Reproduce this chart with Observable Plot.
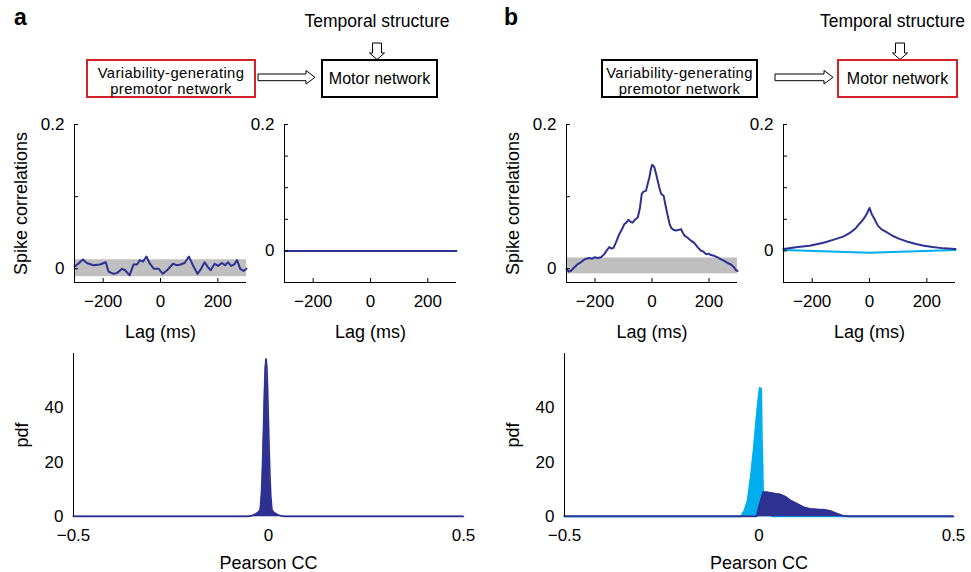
<!DOCTYPE html>
<html><head><meta charset="utf-8">
<script src="https://cdn.jsdelivr.net/npm/d3@7"></script>
<script src="https://cdn.jsdelivr.net/npm/@observablehq/plot@0.6"></script>
<style>
body{margin:0;background:#fff;}
#fig{position:relative;width:971px;height:572px;overflow:hidden;background:#fff;}
</style></head><body><div id="fig"></div>
<script>
// ---------- data ----------
const DARK = "#2e3192", LIGHT = "#00aeef", GRAY = "#bfbfbf", RED = "#d2232a";

// panel a, spike correlations (variability-generating network)
const lagA1 = [-300,-287,-271,-257,-234,-211,-191,-181,-164,-152,-134,-123,-108,-94,-82,-72,-61,-49,-37,-23,-6,8,23,44,56,70,84,99,113,129,140,154,166,175,189,201,214,225,236,246,257,267,278,290,300];
const corrA1 = [0.003,0.007,0.013,0.008,0.005,0.006,0.009,-0.004,-0.007,-0.006,0.000,-0.002,-0.009,0.006,0.006,0.012,0.010,0.017,0.007,0.000,0.000,-0.007,-0.002,0.007,0.005,0.006,0.008,0.017,0.005,-0.007,-0.001,0.009,0.002,-0.002,0.007,0.004,0.008,0.005,0.009,0.004,0.006,0.012,0.000,-0.003,0.000];
const bandLagA = [-300, 300];
const bandCorrA = [-0.011, 0.0125];

// panel a, motor network
const lagA2 = [-300,-150,0,150,300];
const corrA2 = [0,0,0,0,0];

// panel b, spike correlations (variability-generating network)
const lagB1 = [-300,-292,-285,-275,-262,-250,-240,-231,-220,-210,-202,-190,-179,-168,-158,-150,-142,-135,-125,-115,-105,-97,-90,-83,-75,-68,-60,-50,-42,-36,-30,-21,-15,-9,-4,0,4,8,14,20,26,32,41,49,56,62,67,75,84,95,102,108,114,125,137,148,160,172,180,190,198,207,218,230,242,254,265,277,288,295,300];
const corrB1 = [0.000,-0.004,-0.003,0.001,0.006,0.009,0.012,0.014,0.015,0.014,0.016,0.015,0.016,0.020,0.026,0.030,0.028,0.029,0.038,0.048,0.055,0.062,0.064,0.068,0.065,0.064,0.068,0.071,0.085,0.104,0.107,0.108,0.118,0.127,0.138,0.144,0.143,0.141,0.132,0.122,0.112,0.104,0.101,0.085,0.072,0.062,0.057,0.054,0.053,0.054,0.055,0.050,0.046,0.043,0.039,0.036,0.030,0.025,0.024,0.020,0.021,0.019,0.018,0.016,0.013,0.011,0.008,0.006,0.002,-0.002,-0.003];
const bandLagB = [-300, 300];
const bandCorrB = [-0.007, 0.015];

// panel b, motor network (dark: spike correlations, light: shuffled)
const lagB2 = [-300,-250,-209,-160,-116,-90,-70,-50,-35,-25,-17,-8,0,8,18,29,42,58,80,104,130,162,190,220,260,300];
const corrB2 = [0.003,0.006,0.008,0.013,0.019,0.023,0.028,0.035,0.043,0.048,0.053,0.060,0.068,0.058,0.050,0.040,0.034,0.030,0.024,0.019,0.015,0.011,0.008,0.006,0.004,0.003];
const lagB2s = [-300,0,300];
const corrB2s = [0.0015,-0.003,0.0015];

// pdf of Pearson CC
const ccA = [-0.5,-0.2,-0.052,-0.042,-0.034,-0.026,-0.021,-0.018,-0.016,-0.014,-0.012,-0.010,-0.008,-0.006,-0.004,-0.002,0.000,0.002,0.004,0.006,0.009,0.014,0.022,0.030,0.040,0.2,0.5];
const pdfA = [0,0,0,0.3,0.8,1.5,2.5,7.8,14.5,23.8,35.2,46.5,54.9,58,54.9,46.5,35.2,23.8,14.5,7.8,2.5,1.5,0.8,0.3,0,0,0];
const ccBlight = [-0.5,-0.2,-0.046,-0.037,-0.029,-0.020,-0.013,-0.007,-0.002,0.002,0.006,0.008,0.011,0.016,0.024,0.035,0.2,0.5];
const pdfBlight = [0,0,0,2.2,5.9,15.7,25.4,35.2,42.6,47.4,47,27.9,9.5,4,1,0,0,0];
const ccBdark = [-0.5,-0.2,-0.006,0.002,0.011,0.021,0.038,0.055,0.068,0.081,0.098,0.115,0.132,0.150,0.167,0.184,0.201,0.218,0.232,0.3,0.5];
const pdfBdark = [0,0,0,4.5,8.9,8.9,8.5,8.1,7.3,5.9,4.7,3.4,2.8,2.6,2.5,2.0,1.0,0.2,0,0,0];

// ticks
const lagTicks = [-200, 0, 200];
const corrTicksA = [0, 0.1, 0.2];
const corrTicksB = [0, 0.05, 0.1, 0.15, 0.2];
const corrLabels = [0, 0.2];
const ccTicks = [-0.5, 0, 0.5];
const pdfTicks = [0, 20, 40];

// ---------- drawing ----------
const FONT = '"Liberation Sans", Arial, Helvetica, sans-serif';
const fig = document.getElementById("fig");
const fmt = d => String(d).replace("-", "\u2212");
const zip = (xs, ys) => xs.map((x, i) => ({x, y: ys[i]}));

function panel(o) {
  const ml = 75, mr = 20, mt = 15, mb = o.mb;
  const w = o.x1 - o.x0, h = o.y1 - o.y0;
  const svg = Plot.plot({
    width: w + ml + mr, height: h + mt + mb,
    marginLeft: ml, marginRight: mr, marginTop: mt, marginBottom: mb,
    style: {fontFamily: FONT, fontSize: "17px", background: "transparent", color: "#000", overflow: "visible"},
    x: {domain: o.xDomain},
    y: {domain: o.yDomain},
    marks: o.marks(w, h)
  });
  svg.style.position = "absolute";
  svg.style.left = (o.x0 - ml) + "px";
  svg.style.top = (o.y0 - mt) + "px";
  fig.appendChild(svg);
}

function corrPanel(o) {
  panel({
    x0: o.x0, x1: o.x1, y0: 124, y1: 282, mb: 62,
    xDomain: [-300, 300], yDomain: o.yDomain,
    marks: (w, h) => [
      o.band ? Plot.rect([0], {x1: () => o.band[0][0], x2: () => o.band[0][1], y1: () => o.band[1][0], y2: () => o.band[1][1], fill: GRAY}) : null,
      ...o.lines.map(l => Plot.line(zip(l[0], l[1]), {x: "x", y: "y", stroke: l[2], strokeWidth: 2})),
      Plot.ruleX([-300], {stroke: "#000", strokeWidth: 1}),
      Plot.ruleY([o.yDomain[0]], {stroke: "#000", strokeWidth: 1}),
      Plot.tickX(lagTicks, {x: d => d, insetTop: h - 4, stroke: "#000"}),
      Plot.tickY(o.yTicks, {y: d => d, insetRight: w - 4, stroke: "#000"}),
      Plot.axisX({ticks: lagTicks, tickSize: 0, tickPadding: 12.5, tickFormat: fmt, label: null}),
      Plot.axisY({ticks: corrLabels, tickSize: 0, tickPadding: 10, tickFormat: fmt, label: null}),
      Plot.text(["Lag (ms)"], {text: d => d, frameAnchor: "bottom", dy: 50, lineAnchor: "middle", textAnchor: "middle", fontSize: 18}),
      o.ylabel ? Plot.text(["Spike correlations"], {text: d => d, frameAnchor: "left", dx: -53, rotate: -90, textAnchor: "middle", lineAnchor: "middle", fontSize: 18}) : null
    ]
  });
}

function pdfPanel(o) {
  panel({
    x0: o.x0, x1: o.x1, y0: 353, y1: 516, mb: 55,
    xDomain: [-0.5, 0.5], yDomain: [0, 60],
    marks: (w, h) => [
      ...o.areas.flatMap(a => [
        Plot.areaY(zip(a[0], a[1]), {x: "x", y: "y", fill: a[2], stroke: a[2], strokeWidth: 0.6}),
        Plot.line(zip(a[0], a[1]), {x: "x", y: "y", stroke: a[2], strokeWidth: 1.5})
      ]),
      Plot.ruleX([-0.5], {stroke: "#000", strokeWidth: 1}),
      Plot.axisX({ticks: ccTicks, tickSize: 0, tickPadding: 12.5, tickFormat: fmt, label: null}),
      Plot.axisY({ticks: pdfTicks, tickSize: 0, tickPadding: 10, tickFormat: fmt, label: null}),
      Plot.text(["Pearson CC"], {text: d => d, frameAnchor: "bottom", dy: 46.5, lineAnchor: "middle", textAnchor: "middle", fontSize: 18}),
      Plot.text(["pdf"], {text: d => d, frameAnchor: "left", dx: -51, rotate: -90, textAnchor: "middle", lineAnchor: "middle", fontSize: 18})
    ]
  });
}

corrPanel({x0: 74, x1: 246, yDomain: [-0.019, 0.2], yTicks: corrTicksA, band: [bandLagA, bandCorrA], lines: [[lagA1, corrA1, DARK]], ylabel: true});
corrPanel({x0: 284, x1: 456, yDomain: [-0.05, 0.2], yTicks: corrTicksB, lines: [[lagA2, corrA2, DARK]]});
corrPanel({x0: 566, x1: 737, yDomain: [-0.019, 0.2], yTicks: corrTicksA, band: [bandLagB, bandCorrB], lines: [[lagB1, corrB1, DARK]], ylabel: true});
corrPanel({x0: 783, x1: 955, yDomain: [-0.05, 0.2], yTicks: corrTicksB, lines: [[lagB2s, corrB2s, LIGHT], [lagB2, corrB2, DARK]]});
pdfPanel({x0: 73, x1: 463, areas: [[ccA, pdfA, DARK]]});
pdfPanel({x0: 564, x1: 953, areas: [[ccBlight, pdfBlight, LIGHT], [ccBdark, pdfBdark, DARK]]});

// ---------- schematic diagrams ----------
function hArrow(x0, x1) {
  const hx = x1 - 9;
  return `<polygon points="${x0},74 ${hx},74 ${hx},70.5 ${x1},77.3 ${hx},84 ${hx},80.7 ${x0},80.7" fill="#fff" stroke="#000" stroke-width="1"/>`;
}
function vArrow(cx) {
  return `<polygon points="${cx-4.5},43 ${cx+4.5},43 ${cx+4.5},53 ${cx+7.5},53 ${cx},59.5 ${cx-7.5},53 ${cx-4.5},53" fill="#fff" stroke="#000" stroke-width="1"/>`;
}
const boxText = `font-size="14.8" letter-spacing="0.4" text-anchor="middle"`;
const diag = `<svg xmlns="http://www.w3.org/2000/svg" width="971" height="110" style="position:absolute;left:0;top:0" font-family="Liberation Sans, Arial, sans-serif">
<text x="14" y="25" font-size="23" font-weight="bold">a</text>
<text x="504" y="25" font-size="23" font-weight="bold">b</text>
<text x="377" y="27" font-size="17.5" text-anchor="middle">Temporal structure</text>
<text x="892.5" y="27" font-size="17.5" text-anchor="middle">Temporal structure</text>
${vArrow(377)}${vArrow(900)}
<rect x="87" y="60" width="168" height="37" fill="none" stroke="${RED}" stroke-width="2"/>
<text x="171" y="77.5" ${boxText}>Variability-generating</text>
<text x="171" y="94" ${boxText}>premotor network</text>
${hArrow(258, 315)}
<rect x="322" y="60" width="115" height="37" fill="none" stroke="#000" stroke-width="2"/>
<text x="379.5" y="83.5" font-size="16" text-anchor="middle">Motor network</text>
<rect x="602" y="60" width="155" height="37" fill="none" stroke="#000" stroke-width="2"/>
<text x="679.5" y="77.5" ${boxText}>Variability-generating</text>
<text x="679.5" y="94" ${boxText}>premotor network</text>
${hArrow(775, 833)}
<rect x="838" y="60" width="119" height="37" fill="none" stroke="${RED}" stroke-width="2"/>
<text x="897.5" y="83.5" font-size="16" text-anchor="middle">Motor network</text>
</svg>`;
fig.insertAdjacentHTML("beforeend", diag);
</script>
</body></html>
